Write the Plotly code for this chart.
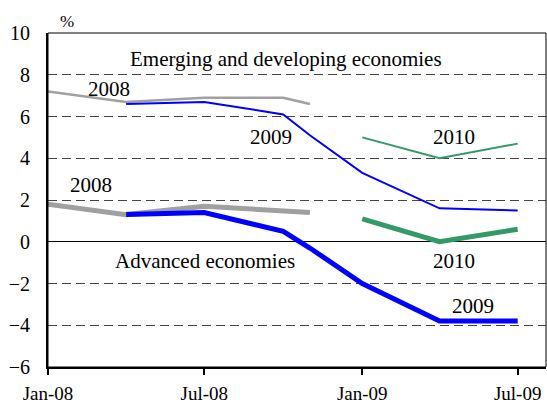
import plotly.graph_objects as go

# forecast release dates (WEO vintages)
dates = ['2008-01-01', '2008-04-01', '2008-07-01', '2008-10-01', '2008-11-01',
         '2009-01-01', '2009-04-01', '2009-07-01']

# emerging and developing economies
em_2008 = [7.2, 6.7, 6.9, 6.9, 6.6, None, None, None]
em_2009 = [None, 6.6, 6.7, 6.1, 5.1, 3.3, 1.6, 1.5]
em_2010 = [None, None, None, None, None, 5.0, 4.0, 4.7]

# advanced economies
adv_2008 = [1.8, 1.3, 1.7, 1.5, 1.4, None, None, None]
adv_2009 = [None, 1.3, 1.4, 0.5, -0.3, -2.0, -3.8, -3.8]
adv_2010 = [None, None, None, None, None, 1.1, 0.0, 0.6]

tick_dates = ['2008-01-01', '2008-07-01', '2009-01-01', '2009-07-01']
tick_labels = ['Jan-08', 'Jul-08', 'Jan-09', 'Jul-09']

GRAY = '#a0a0a0'
BLUE = '#0000ff'
GREEN = '#339966'
FONT = 'Liberation Serif'

fig = go.Figure()

series = [
    (em_2008, GRAY, 2.5), (em_2010, GREEN, 2), (em_2009, BLUE, 2),
    (adv_2008, GRAY, 5), (adv_2010, GREEN, 5), (adv_2009, BLUE, 5),
]
for vals, color, w in series:
    fig.add_trace(go.Scatter(x=dates, y=vals, mode='lines',
                             line=dict(color=color, width=w),
                             connectgaps=False, showlegend=False,
                             hoverinfo='skip'))

# text labels inside the plot
labels = [
    ('Emerging and developing economies', '2008-10-04', 8.75),
    ('2008', '2008-03-12', 7.3),
    ('2009', '2008-09-17', 5.0),
    ('2010', '2009-04-18', 5.0),
    ('2008', '2008-02-20', 2.7),
    ('Advanced economies', '2008-07-02', -0.9),
    ('2010', '2009-04-18', -0.9),
    ('2009', '2009-05-10', -3.1),
]
for txt, xd, yv in labels:
    fig.add_annotation(x=xd, y=yv, text=txt, showarrow=False,
                       font=dict(family=FONT, size=21, color='black'))

fig.add_annotation(x=0.038, y=1.0, xref='paper', yref='paper',
                   xanchor='center', yanchor='bottom',
                   text='%', showarrow=False,
                   font=dict(family=FONT, size=17, color='black'))

# thin frame on top and right
fig.add_shape(type='rect', xref='paper', yref='paper', x0=0, y0=0, x1=1, y1=1,
              line=dict(color='black', width=1))

fig.update_layout(
    width=547, height=407,
    margin=dict(l=48, r=1, t=33, b=40),
    plot_bgcolor='white', paper_bgcolor='white',
    font=dict(family=FONT, size=20, color='black'),
    xaxis=dict(
        type='date', automargin=False,
        range=['2008-01-01', '2009-08-03'],
        tickvals=tick_dates, ticktext=tick_labels,
        ticks='outside', ticklen=6, tickcolor='black', tickwidth=1.5,
        ticklabelstandoff=2,
        showline=True, linecolor='black', linewidth=2,
        showgrid=False, zeroline=False,
        tickfont=dict(family=FONT, size=19),
    ),
    yaxis=dict(
        range=[-6, 10], dtick=2, automargin=False,
        showline=True, linecolor='black', linewidth=2,
        showgrid=True, gridcolor='#444444', gridwidth=1, griddash='9px,5px',
        zeroline=True, zerolinecolor='black', zerolinewidth=1,
        ticks='', ticklabelstandoff=12,
        tickfont=dict(family=FONT, size=20),
    ),
)

fig.write_html('out.html', config={'displayModeBar': False},
               post_script="document.body.style.margin='0';")
